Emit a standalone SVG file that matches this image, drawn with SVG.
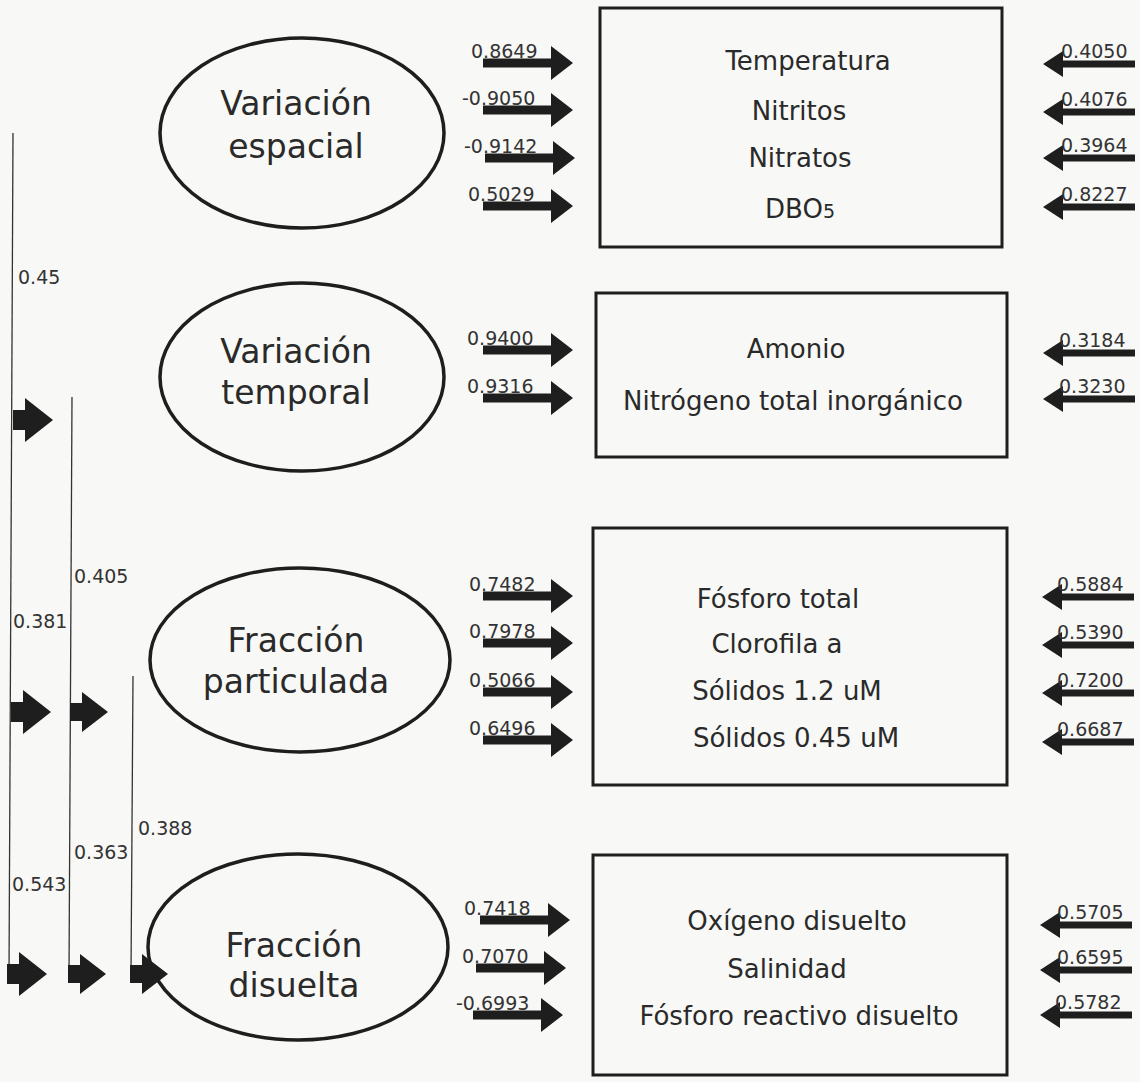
<svg xmlns="http://www.w3.org/2000/svg" xmlns:xlink="http://www.w3.org/1999/xlink" width="1140" height="1082" viewBox="0 0 1140 1082">
<style>
  .bg{fill:#f8f8f6}
  .box{fill:none;stroke:#1e1e1e;stroke-width:3}
  .ell{fill:none;stroke:#1e1e1e;stroke-width:3.5}
  .etxt{font-family:"DejaVu Sans",sans-serif;font-size:33px;fill:#2a2a2a;text-anchor:middle}
  .btxt{font-family:"DejaVu Sans",sans-serif;font-size:26px;fill:#2a2a2a;text-anchor:middle}
  .val{font-family:"DejaVu Sans",sans-serif;font-size:19px;fill:#333}
  .line{stroke:#333;stroke-width:1.3;fill:none}
  .arr{fill:#1e1e1e}
</style>
<defs>
  <path id="inArrow" d="M0,-4.5 H68 V-17 L90,0 L68,17 V4.5 H0 Z"/>
  <path id="outArrow" d="M0,0 L20,-13 V-3.5 H92 V3.5 H20 V13 Z"/>
  <path id="bigArrow" d="M0,-10 H12 V-22 L40,0 L12,22 V10 H0 Z"/>
  <path id="midArrow" d="M0,-9 H12 V-20 L38,0 L12,20 V9 H0 Z"/>
</defs>
<rect class="bg" x="0" y="0" width="1140" height="1082"/>

<g id="factor-espacial">
  <ellipse class="ell" cx="302" cy="133" rx="142" ry="95"/>
  <text class="etxt" x="296" y="115">Variación</text>
  <text class="etxt" x="296" y="158">espacial</text>
</g>
<g id="factor-temporal">
  <ellipse class="ell" cx="302" cy="377" rx="142" ry="94"/>
  <text class="etxt" x="296" y="363">Variación</text>
  <text class="etxt" x="296" y="404">temporal</text>
</g>
<g id="factor-particulada">
  <ellipse class="ell" cx="300" cy="660" rx="150" ry="92"/>
  <text class="etxt" x="296" y="652">Fracción</text>
  <text class="etxt" x="296" y="693">particulada</text>
</g>
<g id="factor-disuelta">
  <ellipse class="ell" cx="298" cy="947" rx="150" ry="93"/>
  <text class="etxt" x="294" y="957">Fracción</text>
  <text class="etxt" x="294" y="997">disuelta</text>
</g>

<g id="box-espacial">
  <rect class="box" x="600" y="8" width="402" height="239"/>
  <text class="btxt" x="808" y="70">Temperatura</text>
  <text class="btxt" x="799" y="120">Nitritos</text>
  <text class="btxt" x="800" y="167">Nitratos</text>
  <text class="btxt" x="800" y="218">DBO<tspan font-size="19px">5</tspan></text>
</g>
<g id="box-temporal">
  <rect class="box" x="596" y="293" width="411" height="164"/>
  <text class="btxt" x="796" y="358">Amonio</text>
  <text class="btxt" x="793" y="410">Nitrógeno total inorgánico</text>
</g>
<g id="box-particulada">
  <rect class="box" x="593" y="528" width="414" height="257"/>
  <text class="btxt" x="778" y="608">Fósforo total</text>
  <text class="btxt" x="777" y="653">Clorofila a</text>
  <text class="btxt" x="787" y="700">Sólidos 1.2 uM</text>
  <text class="btxt" x="796" y="747">Sólidos 0.45 uM</text>
</g>
<g id="box-disuelta">
  <rect class="box" x="593" y="855" width="414" height="220"/>
  <text class="btxt" x="797" y="930">Oxígeno disuelto</text>
  <text class="btxt" x="787" y="978">Salinidad</text>
  <text class="btxt" x="799" y="1025">Fósforo reactivo disuelto</text>
</g>

<g id="connectors">
  <!-- correlation lines -->
  <path class="line" d="M13,133 L9,975"/>
  <path class="line" d="M72,397 L69,975"/>
  <path class="line" d="M133,676 L131,975"/>
  <use class="arr" xlink:href="#bigArrow" x="13" y="420"/>
  <use class="arr" xlink:href="#bigArrow" x="11" y="712"/>
  <use class="arr" xlink:href="#midArrow" x="70" y="712"/>
  <use class="arr" xlink:href="#bigArrow" x="7" y="974"/>
  <use class="arr" xlink:href="#midArrow" x="68" y="974"/>
  <use class="arr" xlink:href="#midArrow" x="130" y="974"/>
  <text class="val" x="18" y="284">0.45</text>
  <text class="val" x="74" y="583">0.405</text>
  <text class="val" x="13" y="628">0.381</text>
  <text class="val" x="138" y="835">0.388</text>
  <text class="val" x="74" y="859">0.363</text>
  <text class="val" x="12" y="891">0.543</text>

  <!-- loadings box 1 -->
  <use class="arr" xlink:href="#inArrow" x="483" y="63"/>
  <use class="arr" xlink:href="#inArrow" x="483" y="110"/>
  <use class="arr" xlink:href="#inArrow" x="485" y="158"/>
  <use class="arr" xlink:href="#inArrow" x="483" y="206"/>
  <text class="val" x="471" y="58">0.8649</text>
  <text class="val" x="462" y="105">-0.9050</text>
  <text class="val" x="464" y="153">-0.9142</text>
  <text class="val" x="468" y="201">0.5029</text>
  <use class="arr" xlink:href="#outArrow" x="1043" y="64"/>
  <use class="arr" xlink:href="#outArrow" x="1043" y="112"/>
  <use class="arr" xlink:href="#outArrow" x="1043" y="158"/>
  <use class="arr" xlink:href="#outArrow" x="1043" y="207"/>
  <text class="val" x="1061" y="58">0.4050</text>
  <text class="val" x="1061" y="106">0.4076</text>
  <text class="val" x="1061" y="152">0.3964</text>
  <text class="val" x="1061" y="201">0.8227</text>

  <!-- loadings box 2 -->
  <use class="arr" xlink:href="#inArrow" x="483" y="350"/>
  <use class="arr" xlink:href="#inArrow" x="483" y="398"/>
  <text class="val" x="467" y="345">0.9400</text>
  <text class="val" x="467" y="393">0.9316</text>
  <use class="arr" xlink:href="#outArrow" x="1043" y="353"/>
  <use class="arr" xlink:href="#outArrow" x="1043" y="399"/>
  <text class="val" x="1059" y="347">0.3184</text>
  <text class="val" x="1059" y="393">0.3230</text>

  <!-- loadings box 3 -->
  <use class="arr" xlink:href="#inArrow" x="483" y="596"/>
  <use class="arr" xlink:href="#inArrow" x="483" y="643"/>
  <use class="arr" xlink:href="#inArrow" x="483" y="692"/>
  <use class="arr" xlink:href="#inArrow" x="483" y="740"/>
  <text class="val" x="469" y="591">0.7482</text>
  <text class="val" x="469" y="638">0.7978</text>
  <text class="val" x="469" y="687">0.5066</text>
  <text class="val" x="469" y="735">0.6496</text>
  <use class="arr" xlink:href="#outArrow" x="1042" y="597"/>
  <use class="arr" xlink:href="#outArrow" x="1042" y="645"/>
  <use class="arr" xlink:href="#outArrow" x="1042" y="693"/>
  <use class="arr" xlink:href="#outArrow" x="1042" y="742"/>
  <text class="val" x="1057" y="591">0.5884</text>
  <text class="val" x="1057" y="639">0.5390</text>
  <text class="val" x="1057" y="687">0.7200</text>
  <text class="val" x="1057" y="736">0.6687</text>

  <!-- loadings box 4 -->
  <use class="arr" xlink:href="#inArrow" x="480" y="920"/>
  <use class="arr" xlink:href="#inArrow" x="476" y="968"/>
  <use class="arr" xlink:href="#inArrow" x="473" y="1015"/>
  <text class="val" x="464" y="915">0.7418</text>
  <text class="val" x="462" y="963">0.7070</text>
  <text class="val" x="456" y="1010">-0.6993</text>
  <use class="arr" xlink:href="#outArrow" x="1040" y="925"/>
  <use class="arr" xlink:href="#outArrow" x="1040" y="970"/>
  <use class="arr" xlink:href="#outArrow" x="1040" y="1015"/>
  <text class="val" x="1057" y="919">0.5705</text>
  <text class="val" x="1057" y="964">0.6595</text>
  <text class="val" x="1055" y="1009">0.5782</text>
</g>
</svg>
